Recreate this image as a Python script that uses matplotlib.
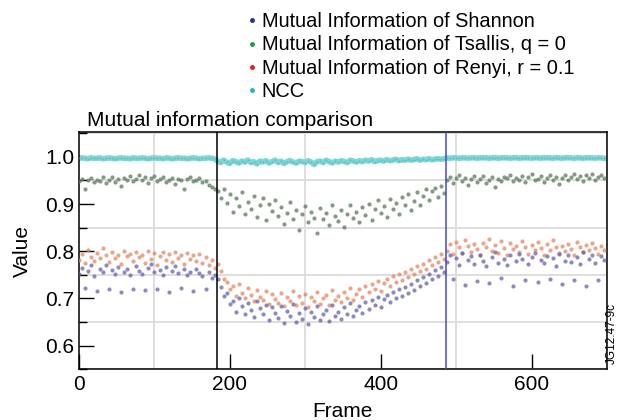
import matplotlib
matplotlib.use("Agg")
import matplotlib.pyplot as plt
import numpy as np
from matplotlib.lines import Line2D

plt.rcParams['font.family'] = ['Liberation Sans', 'DejaVu Sans']

# frame index of every sample (one sample each 4 frames)
frames = np.arange(0, 700, 4)

shannon = [
    0.752, 0.765, 0.723, 0.758, 0.770, 0.748, 0.716, 0.762, 0.755, 0.771,
    0.719, 0.760, 0.752, 0.767, 0.713, 0.757, 0.763, 0.749, 0.721, 0.768,
    0.758, 0.751, 0.717, 0.764, 0.772, 0.755, 0.720, 0.761, 0.749, 0.766,
    0.714, 0.759, 0.768, 0.753, 0.722, 0.763, 0.750, 0.757, 0.716, 0.762,
    0.754, 0.748, 0.720, 0.756, 0.744, 0.750,
    0.742, 0.725, 0.706, 0.712, 0.688, 0.695, 0.672, 0.701, 0.683, 0.668,
    0.690, 0.676, 0.661, 0.694, 0.679, 0.667, 0.686, 0.655, 0.681, 0.670,
    0.659, 0.684, 0.648, 0.673, 0.662, 0.688, 0.651, 0.669, 0.657, 0.679,
    0.646, 0.671, 0.660, 0.683, 0.654, 0.668, 0.675, 0.652, 0.687, 0.663,
    0.672, 0.656, 0.681, 0.667, 0.690, 0.662, 0.676, 0.684, 0.669, 0.693,
    0.678, 0.697, 0.686, 0.703, 0.681, 0.699, 0.708, 0.692, 0.714, 0.701,
    0.719, 0.706, 0.724, 0.712, 0.731, 0.718, 0.738, 0.727, 0.745, 0.733,
    0.752, 0.741, 0.760, 0.748, 0.767, 0.755,
    0.778, 0.792, 0.741, 0.785, 0.771, 0.796, 0.728, 0.782, 0.789, 0.774,
    0.737, 0.793, 0.780, 0.768, 0.732, 0.787, 0.799, 0.776, 0.743, 0.784,
    0.770, 0.791, 0.726, 0.779, 0.795, 0.783, 0.739, 0.772, 0.788, 0.797,
    0.734, 0.781, 0.775, 0.790, 0.742, 0.786, 0.769, 0.794, 0.730, 0.780,
    0.792, 0.777, 0.738, 0.788, 0.773, 0.798, 0.727, 0.784, 0.791, 0.776,
    0.740, 0.789, 0.782,
]

tsallis = [
    0.948, 0.953, 0.931, 0.950, 0.955, 0.946, 0.952, 0.949, 0.957, 0.944,
    0.951, 0.958, 0.947, 0.953, 0.938, 0.956, 0.950, 0.960, 0.948, 0.954,
    0.962, 0.951, 0.957, 0.945, 0.955, 0.960, 0.949, 0.953, 0.958, 0.946,
    0.952, 0.956, 0.943, 0.954, 0.950, 0.931, 0.953, 0.957, 0.948, 0.952,
    0.955, 0.946, 0.949, 0.941, 0.937, 0.932,
    0.927, 0.912, 0.931, 0.903, 0.921, 0.884, 0.912, 0.896, 0.925, 0.878,
    0.905, 0.889, 0.918, 0.872, 0.897, 0.913, 0.866, 0.901, 0.886, 0.909,
    0.874, 0.893, 0.858, 0.882, 0.905, 0.869, 0.887, 0.846, 0.878, 0.896,
    0.862, 0.884, 0.871, 0.839, 0.892, 0.868, 0.880, 0.855, 0.899, 0.875,
    0.864, 0.887, 0.852, 0.879, 0.898, 0.870, 0.883, 0.861, 0.893, 0.876,
    0.901, 0.866, 0.889, 0.908, 0.881, 0.895, 0.872, 0.911, 0.890, 0.903,
    0.879, 0.914, 0.897, 0.922, 0.887, 0.906, 0.925, 0.899, 0.917, 0.931,
    0.908, 0.927, 0.935, 0.916, 0.939, 0.924,
    0.952, 0.958, 0.945, 0.955, 0.961, 0.949, 0.956, 0.941, 0.953, 0.959,
    0.947, 0.954, 0.960, 0.944, 0.951, 0.957, 0.936, 0.953, 0.949, 0.958,
    0.955, 0.962, 0.948, 0.956, 0.951, 0.959, 0.946, 0.957, 0.963, 0.950,
    0.954, 0.960, 0.947, 0.956, 0.961, 0.952, 0.958, 0.943, 0.955, 0.962,
    0.950, 0.957, 0.963, 0.953, 0.959, 0.948, 0.961, 0.956, 0.964, 0.952,
    0.958, 0.962, 0.955,
]

renyi = [
    0.781, 0.794, 0.776, 0.802, 0.788, 0.779, 0.797, 0.785, 0.806, 0.791,
    0.777, 0.799, 0.786, 0.793, 0.774, 0.801, 0.789, 0.795, 0.780, 0.798,
    0.787, 0.792, 0.775, 0.800, 0.784, 0.796, 0.771, 0.790, 0.798, 0.782,
    0.794, 0.778, 0.799, 0.786, 0.791, 0.773, 0.797, 0.783, 0.792, 0.779,
    0.795, 0.776, 0.788, 0.770, 0.782, 0.765,
    0.772, 0.758, 0.741, 0.735, 0.719, 0.726, 0.705, 0.731, 0.712, 0.700,
    0.722, 0.708, 0.694, 0.718, 0.703, 0.697, 0.715, 0.688, 0.709, 0.699,
    0.690, 0.712, 0.683, 0.702, 0.694, 0.716, 0.686, 0.705, 0.691, 0.709,
    0.681, 0.703, 0.695, 0.714, 0.688, 0.700, 0.708, 0.686, 0.717, 0.697,
    0.706, 0.692, 0.714, 0.701, 0.722, 0.697, 0.710, 0.719, 0.704, 0.727,
    0.713, 0.731, 0.720, 0.736, 0.716, 0.733, 0.742, 0.727, 0.748, 0.735,
    0.752, 0.740, 0.757, 0.746, 0.763, 0.751, 0.768, 0.758, 0.774, 0.763,
    0.781, 0.770, 0.788, 0.777, 0.795, 0.784,
    0.801, 0.815, 0.794, 0.820, 0.808, 0.797, 0.823, 0.811, 0.799, 0.816,
    0.805, 0.792, 0.818, 0.809, 0.826, 0.800, 0.813, 0.796, 0.821, 0.807,
    0.793, 0.817, 0.804, 0.812, 0.798, 0.822, 0.810, 0.795, 0.814, 0.803,
    0.819, 0.806, 0.791, 0.815, 0.802, 0.824, 0.809, 0.797, 0.812, 0.800,
    0.816, 0.805, 0.793, 0.820, 0.808, 0.799, 0.814, 0.802, 0.818, 0.806,
    0.795, 0.811, 0.803,
]

ncc = [
    0.997, 0.998, 0.997, 0.996, 0.998, 0.997, 0.997, 0.998, 0.996, 0.997,
    0.998, 0.997, 0.996, 0.997, 0.998, 0.997, 0.997, 0.996, 0.998, 0.997,
    0.997, 0.998, 0.997, 0.996, 0.997, 0.998, 0.997, 0.997, 0.996, 0.998,
    0.997, 0.996, 0.997, 0.998, 0.997, 0.997, 0.996, 0.997, 0.998, 0.997,
    0.996, 0.997, 0.997, 0.998, 0.997, 0.996,
    0.991, 0.988, 0.993, 0.989, 0.986, 0.992, 0.990, 0.987, 0.991, 0.989,
    0.993, 0.988, 0.990, 0.985, 0.991, 0.989, 0.992, 0.987, 0.990, 0.993,
    0.988, 0.991, 0.986, 0.990, 0.992, 0.989, 0.987, 0.991, 0.990, 0.988,
    0.992, 0.989, 0.984, 0.990, 0.991, 0.988, 0.993, 0.990, 0.987, 0.991,
    0.989, 0.992, 0.990, 0.988, 0.993, 0.991, 0.989, 0.992, 0.990, 0.993,
    0.991, 0.994, 0.990, 0.992, 0.993, 0.991, 0.994, 0.992, 0.993, 0.995,
    0.992, 0.994, 0.993, 0.995, 0.993, 0.994, 0.996, 0.993, 0.995, 0.994,
    0.996, 0.994, 0.995, 0.996, 0.995, 0.996,
    0.998, 0.997, 0.998, 0.998, 0.997, 0.998, 0.998, 0.997, 0.998, 0.998,
    0.997, 0.998, 0.998, 0.998, 0.997, 0.998, 0.998, 0.997, 0.998, 0.998,
    0.998, 0.997, 0.998, 0.998, 0.997, 0.998, 0.998, 0.998, 0.997, 0.998,
    0.998, 0.997, 0.998, 0.998, 0.998, 0.997, 0.998, 0.998, 0.997, 0.998,
    0.998, 0.998, 0.997, 0.998, 0.998, 0.997, 0.998, 0.998, 0.998, 0.997,
    0.998, 0.998, 0.997,
]

labels = ["Mutual Information of Shannon", "Mutual Information of Tsallis, q = 0",
          "Mutual Information of Renyi, r = 0.1", "NCC"]
cut_frames = [183, 487]

fig = plt.figure(figsize=(6.2, 4.2), dpi=100)
ax = fig.add_axes([0.127, 0.121, 0.852, 0.565])

# background grid
ax.set_xticks(np.arange(0, 701, 100), minor=True)
ax.set_yticks(np.arange(0.55, 1.051, 0.05), minor=True)
ax.grid(which='minor', color='#dedede', lw=1.4)
ax.set_axisbelow(True)

ax.plot(frames, ncc, color='#7cd6d6', lw=4, zorder=2)
ax.scatter(frames, ncc, s=2, color='#4aa8a8', alpha=0.5, lw=0, zorder=3)
ax.scatter(frames, tsallis, s=9, color='#5a7a5a', alpha=0.75, lw=0, zorder=3)
ax.scatter(frames, renyi, s=9, color='#e2805a', alpha=0.7, lw=0, zorder=3)
ax.scatter(frames, shannon, s=9, color='#5a5aa8', alpha=0.7, lw=0, zorder=3)

ax.axvline(cut_frames[0], color='black', lw=1.1, zorder=4)
ax.axvline(cut_frames[1], color='#4a4ac8', lw=1.1, zorder=4)

ax.set_xlim(0, 700)
ax.set_ylim(0.55, 1.053)
ax.set_xticks([0, 200, 400, 600])
ax.set_yticks([0.6, 0.7, 0.8, 0.9, 1.0])
ax.set_yticklabels(["0.6", "0.7", "0.8", "0.9", "1.0"])
ax.tick_params(which='major', direction='in', length=11, width=1, labelsize=15)
ax.tick_params(axis='x', which='minor', length=0)
ax.tick_params(axis='y', which='minor', direction='in', length=6, width=1)
ax.tick_params(axis='x', pad=4)
ax.tick_params(axis='y', pad=3)
for s in ax.spines.values():
    s.set_linewidth(1.1)

ax.set_xlabel("Frame", fontsize=15, labelpad=6)
ax.set_ylabel("Value", fontsize=15, labelpad=10)
ax.text(0.015, 1.008, "Mutual information comparison", transform=ax.transAxes,
        fontsize=15, ha='left', va='bottom')

handles = [Line2D([], [], ls='none', marker='o', ms=2.5, color=c)
           for c in ['#2b2b9a', '#1aa050', '#e02020', '#20b8b8']]
fig.legend(handles, labels, loc='upper left', bbox_to_anchor=(0.382, 0.995),
           frameon=False, fontsize=14.4, handlelength=0.5, handletextpad=0.25,
           labelspacing=0.22, borderaxespad=0.1)

fig.text(0.987, 0.207, "JG12.47-9c", rotation=90, fontsize=8.5, ha='center', va='center')

fig.savefig("out.png", dpi=100)
